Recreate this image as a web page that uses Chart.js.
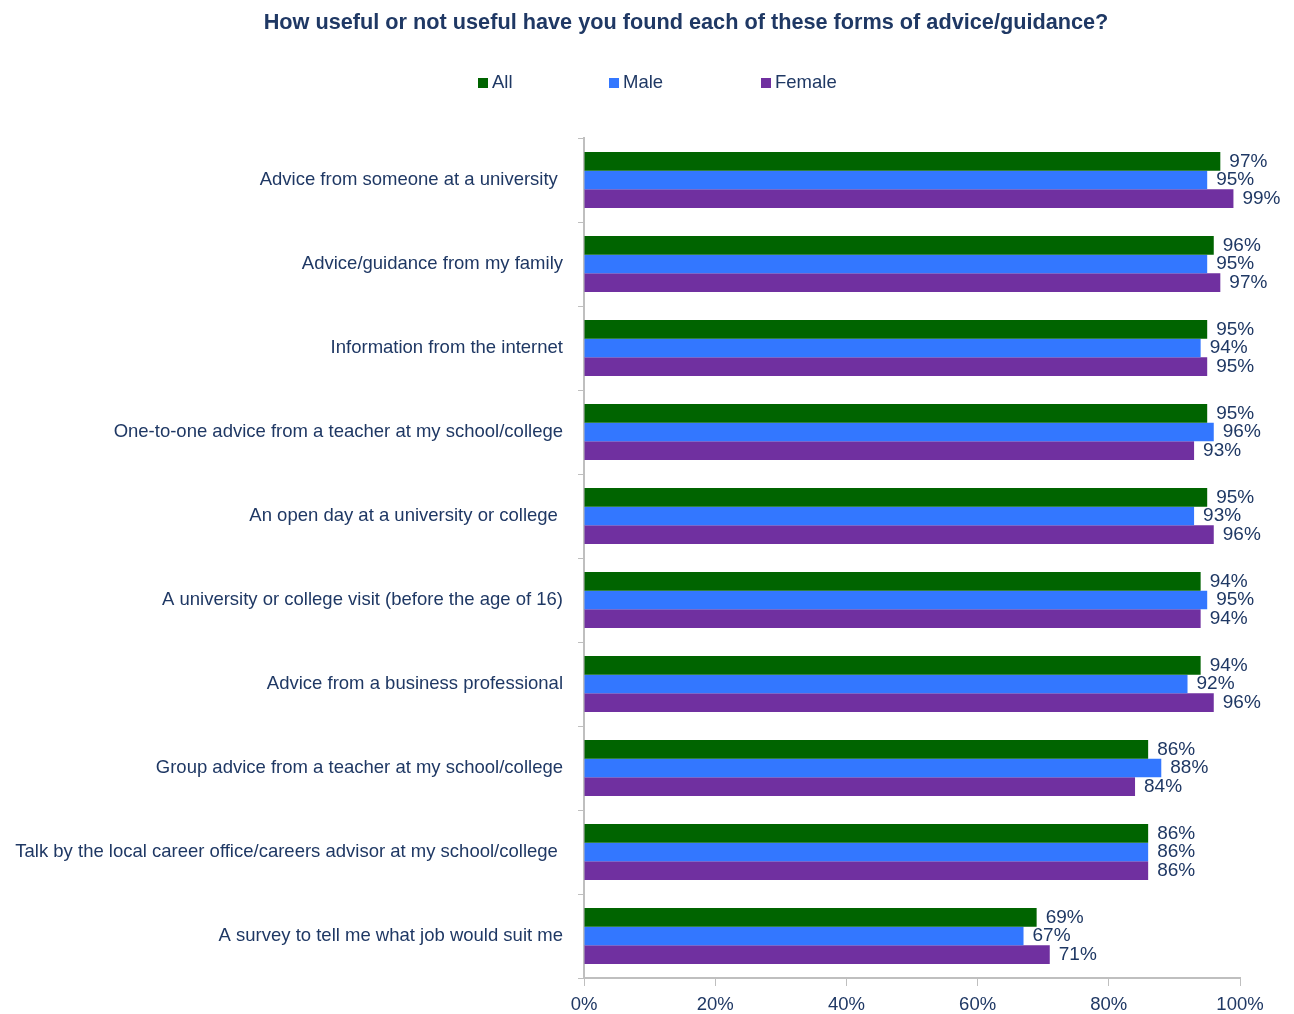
<!DOCTYPE html>
<html>
<head>
<meta charset="utf-8">
<script src="https://cdn.jsdelivr.net/npm/chart.js@4/dist/chart.umd.min.js"></script>
<style>
  html, body { margin: 0; padding: 0; background: #ffffff; }
  #wrap { position: relative; width: 1294px; height: 1014px; }
</style>
</head>
<body>
<div id="wrap"><canvas id="c" width="1294" height="1014"></canvas></div>
<script>
const categories = [
  "Advice from someone at a university ",
  "Advice/guidance from my family",
  "Information from the internet",
  "One-to-one advice from a teacher at my school/college",
  "An open day at a university or college ",
  "A university or college visit (before the age of 16)",
  "Advice from a business professional",
  "Group advice from a teacher at my school/college",
  "Talk by the local career office/careers advisor at my school/college ",
  "A survey to tell me what job would suit me"
];
const seriesNames = ["All", "Male", "Female"];
const allValues    = [97, 96, 95, 95, 95, 94, 94, 86, 86, 69];
const maleValues   = [95, 95, 94, 96, 93, 95, 92, 88, 86, 67];
const femaleValues = [99, 97, 95, 93, 96, 94, 96, 84, 86, 71];
const xTicks = [0, 20, 40, 60, 80, 100];
const titleText = "How useful or not useful have you found each of these forms of advice/guidance?";

const colors = ["#006400", "#3377FF", "#7030A0"];
const textColor = "#1F3864";
const FONT = "'Liberation Sans', Arial, sans-serif";

const valueLabels = {
  id: 'valueLabels',
  afterDatasetsDraw(chart) {
    const ctx = chart.ctx;
    ctx.save();
    ctx.font = "19px " + FONT;
    ctx.fillStyle = textColor;
    ctx.textAlign = "left";
    ctx.textBaseline = "middle";
    chart.data.datasets.forEach((ds, di) => {
      const meta = chart.getDatasetMeta(di);
      meta.data.forEach((bar, i) => {
        ctx.fillText(ds.data[i] + "%", bar.x + 9, bar.y);
      });
    });
    ctx.restore();
  }
};

const headerAndLegend = {
  id: 'headerAndLegend',
  afterDraw(chart) {
    const ctx = chart.ctx;
    ctx.save();
    ctx.font = "bold 21.7px " + FONT;
    ctx.fillStyle = textColor;
    ctx.textAlign = "center";
    ctx.textBaseline = "middle";
    ctx.fillText(titleText, 686, 23);
    ctx.font = "18.5px " + FONT;
    ctx.textAlign = "left";
    const xs = [478, 609, 761];
    const y = 83;
    seriesNames.forEach((name, i) => {
      ctx.fillStyle = colors[i];
      ctx.fillRect(xs[i], y - 5, 10, 10);
      ctx.fillStyle = textColor;
      ctx.fillText(name, xs[i] + 14, y);
    });
    ctx.restore();
  }
};

new Chart(document.getElementById('c'), {
  type: 'bar',
  data: {
    labels: categories,
    datasets: [
      { label: seriesNames[0], data: allValues, backgroundColor: colors[0] },
      { label: seriesNames[1], data: maleValues, backgroundColor: colors[1] },
      { label: seriesNames[2], data: femaleValues, backgroundColor: colors[2] }
    ]
  },
  options: {
    indexAxis: 'y',
    responsive: false,
    animation: false,
    devicePixelRatio: 1,
    layout: { padding: { left: 0, right: 54, top: 138, bottom: 0 } },
    datasets: { bar: { categoryPercentage: 0.667, barPercentage: 1.0, borderWidth: 0 } },
    plugins: {
      legend: { display: false },
      tooltip: { enabled: false },
      title: { display: false }
    },
    scales: {
      x: {
        min: 0, max: 100,
        afterBuildTicks(scale) { scale.ticks = xTicks.map(v => ({ value: v })); },
        afterFit(scale) { scale.height = 36; },
        ticks: {
          color: textColor,
          font: { family: FONT, size: 18.5 },
          padding: 8,
          callback: v => v + "%"
        },
        grid: { drawOnChartArea: false, drawTicks: true, tickLength: 8, color: '#BFBFBF' },
        border: { display: true, color: '#BFBFBF', width: 2 }
      },
      y: {
        afterFit(scale) { scale.width = 584; },
        ticks: {
          color: textColor,
          font: { family: FONT, size: 18.5 },
          padding: 15,
          autoSkip: false
        },
        grid: { drawOnChartArea: false, drawTicks: true, tickLength: 6, color: '#BFBFBF', offset: true },
        border: { display: true, color: '#BFBFBF', width: 2 }
      }
    }
  },
  plugins: [valueLabels, headerAndLegend]
});
</script>
</body>
</html>
